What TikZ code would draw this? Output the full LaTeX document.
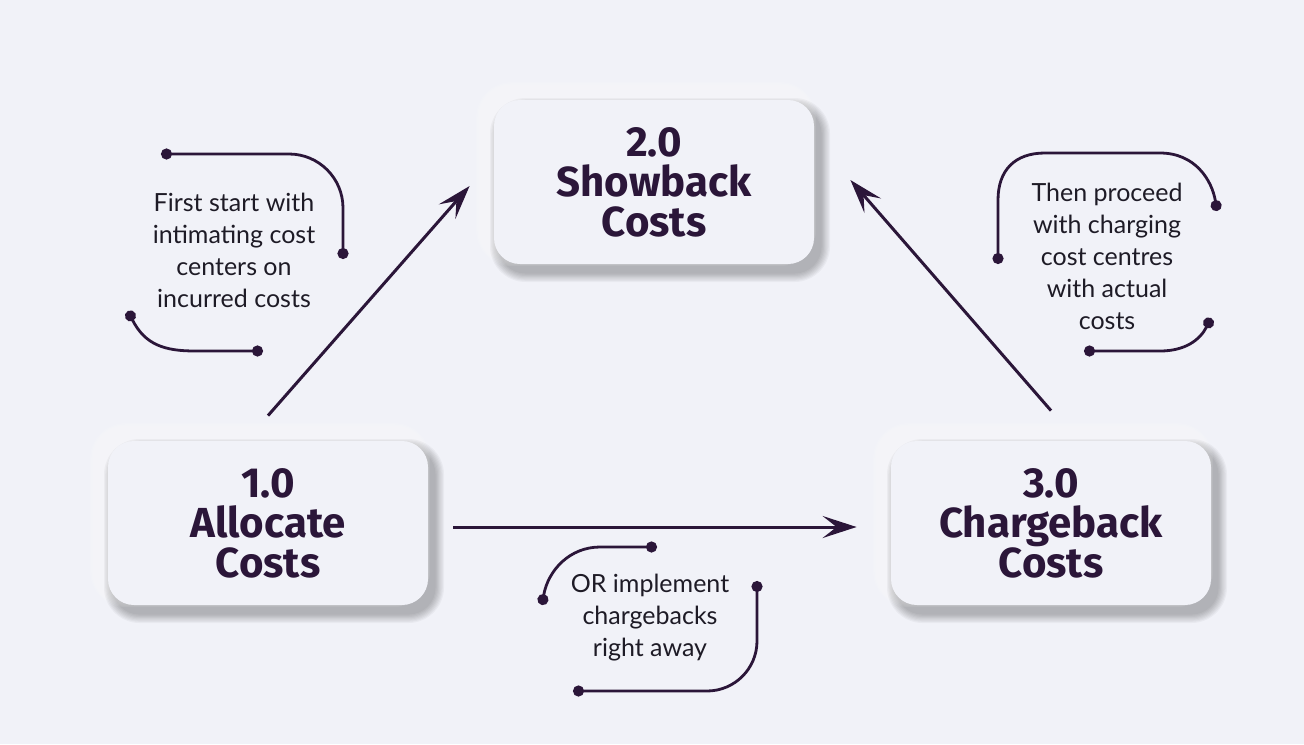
\documentclass[tikz,border=0pt]{standalone}
\usepackage{fontspec}
\setmainfont{Lato}
\newfontfamily\titlefont{Fira Sans}
\usetikzlibrary{arrows.meta}
\definecolor{bg}{HTML}{F1F2F8}
\definecolor{ink}{HTML}{2B1639}
\definecolor{notetext}{HTML}{1E1B26}
\pgfdeclarelayer{back}
\pgfdeclarelayer{shade}
\pgfsetlayers{back,shade,main}

\begin{document}
\begin{tikzpicture}[x=0.5pt, y=-0.5pt,
  stage/.style={fill=bg, rounded corners=13pt, minimum width=160pt, minimum height=82pt,
    align=center, text=ink, font=\titlefont\bfseries\fontsize{21}{20}\selectfont},
  note/.style={align=center, text=notetext, font=\fontsize{12.5}{16}\selectfont},
  flow/.style={-{Stealth[length=17pt, width=11pt, inset=7pt]}, line width=1.5pt, ink},
  hook/.style={{Circle[length=5.5pt]}-{Circle[length=5.5pt]}, line width=1.4pt, ink}]
\begin{pgfonlayer}{back}
\fill [bg] (0,0) rectangle (1304,744);
\end{pgfonlayer}
% the three stages
\node [stage] (show) at (654,182) {2.0\\Showback\\Costs};
\node [stage] (alloc) at (268,523) {1.0\\Allocate\\Costs};
\node [stage] (charge) at (1051,523) {3.0\\Chargeback\\Costs};
% soft shadows behind the stages
\begin{pgfonlayer}{shade}
\foreach \n in {show,alloc,charge}
  \foreach \i in {1,...,8} {
    \fill [white, opacity=0.09, rounded corners=13pt+\i*0.6pt]
      ([shift={(-4pt-\i*0.6pt,4pt-\i*0.6pt)}]\n.south west) rectangle ([shift={(-4pt+\i*0.6pt,4pt+\i*0.6pt)}]\n.north east);
    \fill [black, opacity=0.035, rounded corners=13pt+\i*0.6pt]
      ([shift={(3pt-\i*0.6pt,-4pt-\i*0.6pt)}]\n.south west) rectangle ([shift={(3pt+\i*0.6pt,-4pt+\i*0.6pt)}]\n.north east);
  }
\end{pgfonlayer}
% notes
\node [note] (first) at (234,250) {First start with\\intimating cost\\centers on\\incurred costs};
\node [note] (then) at (1107,256) {Then proceed\\with charging\\cost centres\\with actual\\costs};
\node [note] (or) at (650,618) {OR implement\\chargebacks\\right away};
% arrows
\draw [flow] ([yshift=12.5pt]alloc.north) -- ([xshift=-12pt,yshift=-2pt]show.west);
\draw [flow] ([yshift=15pt]charge.north) -- ([xshift=18pt,yshift=1pt]show.east);
\draw [flow] ([xshift=12.5pt,yshift=-2pt]alloc.east) -- ([xshift=-17pt,yshift=-2pt]charge.west);
% hooks round the notes
\draw [hook, rounded corners=27pt] (161,154) -- (343,154) -- (343,259);
\draw [hook] (128,311) .. controls (145,345) and (165,351) .. (195,351) -- (263,351);
\draw [hook] (998,264) -- (998,200) .. controls (998,170) and (1015,153) .. (1045,153) -- (1160,153) .. controls (1195,153) and (1212,180) .. (1217,211);
\draw [hook] (1084,351) -- (1160,351) .. controls (1185,351) and (1200,340) .. (1211,318);
\draw [hook] (657,547) -- (600,547) .. controls (570,547) and (548,570) .. (542,605);
\draw [hook, rounded corners=25pt] (757,581) -- (757,691) -- (573,691);
\end{tikzpicture}
\end{document}
